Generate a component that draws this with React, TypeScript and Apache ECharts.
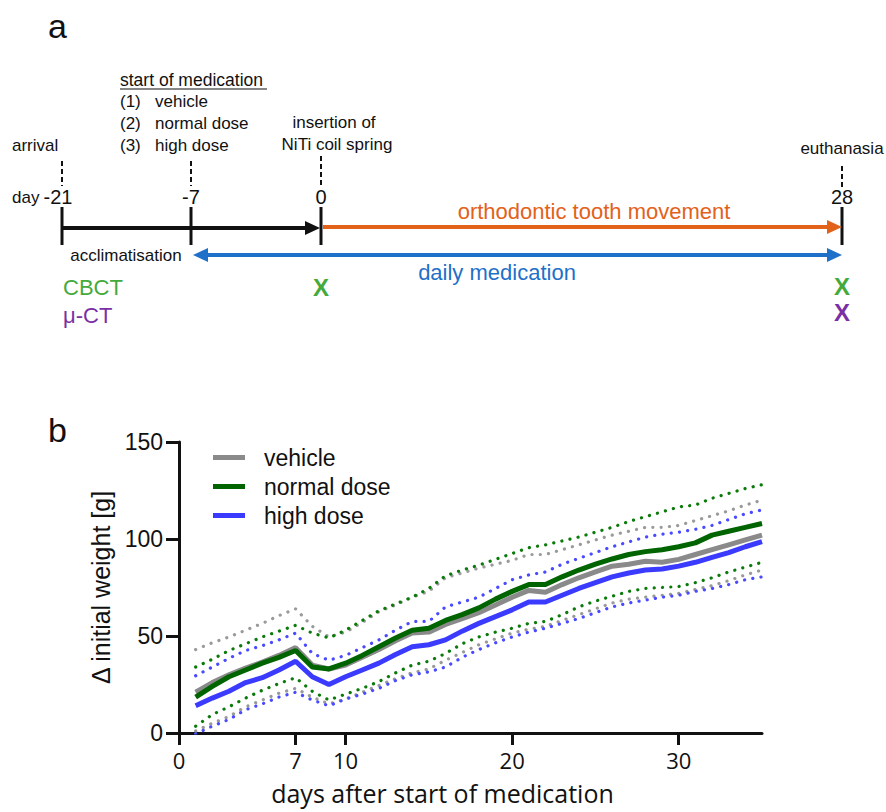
import React, { useEffect, useRef } from "react";
import * as echarts from "echarts";

// ---------- Panel b data ----------
const days = [1, 2, 3, 4, 5, 6, 7, 8, 9, 10, 11, 12, 13, 14, 15, 16, 17, 18, 19, 20, 21, 22, 23, 24, 25, 26, 27, 28, 29, 30, 31, 32, 33, 34, 35];
const xTicks = [0, 7, 10, 20, 30];
const groupNames = ["vehicle", "normal dose", "high dose"];

const vehicleMean = [21, 26, 30, 33.5, 36.5, 40, 44, 35, 33, 35, 39, 43, 47.5, 51.5, 52, 56, 59, 62, 66, 70, 73.5, 72.5, 76.5, 80, 83, 86, 87, 88.5, 88, 89.5, 92, 94.5, 97, 99.5, 102];
const vehicleUpper = [43, 46.5, 49.5, 53, 56.5, 60.5, 64, 55, 49.5, 52, 57, 62.5, 66, 70, 73, 80, 82.5, 85, 87, 89, 92, 92, 94.5, 97, 99.5, 102, 104, 106, 106, 107, 109.5, 112, 114.5, 117.5, 120];
const vehicleLower = [1, 5, 8.5, 13.5, 17, 20.5, 23, 18.5, 15, 17.5, 21, 24.5, 28, 31, 33, 37.5, 41.5, 45.5, 48.5, 51.5, 53.5, 55, 58, 61, 64, 67, 69, 70, 71, 72, 74, 76, 78.5, 81.5, 84];

const normalMean = [18.5, 24, 29, 32.5, 36, 39, 42.5, 34, 33, 36, 40, 44.5, 49, 53, 54, 58, 61, 64.5, 69, 73, 76.5, 76.5, 80.5, 84, 87, 89.7, 92, 93.5, 94.5, 96, 98, 102, 104, 106, 108];
const normalUpper = [34, 38, 42.5, 46, 49.5, 52.5, 55.5, 51.5, 49, 53, 58, 63, 66.5, 70, 74.5, 81, 84, 86.5, 89.5, 92.5, 95.5, 97, 99, 101, 103.5, 106, 109, 111.5, 114, 116.5, 117.5, 121, 123.5, 126, 128];
const normalLower = [3.5, 9.5, 13.5, 18, 22, 25.5, 28.5, 21.5, 17, 20, 23, 26.5, 31, 35, 37, 41, 46, 49.5, 52, 54, 56.5, 57.5, 61, 65, 68, 70.5, 73, 74.5, 75, 75.5, 77.5, 80, 83, 85.5, 88];

const highMean = [14, 18, 21.5, 26, 28.5, 32.5, 37, 29, 25, 29, 32.5, 36, 40.5, 44.5, 45.5, 48, 52.5, 56.5, 60, 63.5, 67.5, 67.5, 71, 74.5, 77.5, 80.5, 82.5, 84, 84.5, 86, 88, 90.5, 93, 96, 98.6];
const highUpper = [29.5, 34, 38.5, 42.5, 45, 48, 51.5, 41, 37.5, 40, 44, 48, 53, 57.5, 57.5, 65, 67.5, 70, 74.5, 79, 81.5, 83, 87, 90, 93, 96, 98.5, 101, 102.5, 103.5, 105, 107, 110, 113, 115];
const highLower = [-0.5, 3.5, 7, 12, 15, 18.5, 21, 17, 14, 17.5, 20, 23, 27, 30, 31.5, 34, 39, 43, 46.5, 49.5, 52, 54, 56.5, 59, 62, 65, 67, 68.5, 70, 71, 73, 74.5, 76.5, 79, 80.5];

// ---------- Panel a labels ----------
const timelineDays = ["-21", "-7", "0", "28"];
const medicationGroups = ["(1)", "(2)", "(3)"];
const medicationNames = ["vehicle", "normal dose", "high dose"];

const SANS = "Liberation Sans, Arial, sans-serif";

function pairs(ys: number[]) {
  return days.map((d, i) => [d, ys[i]]);
}

export default function App() {
  const ref = useRef<HTMLDivElement>(null);

  useEffect(() => {
    if (!ref.current) return;
    const chart = echarts.init(ref.current, null, { renderer: "svg" });

    const meanColors = ["#8a8a8a", "#006400", "#3b3bff"];
    const dotColors = ["#9a9a9a", "#0a7a0a", "#4a4aff"];
    const means = [vehicleMean, normalMean, highMean];
    const uppers = [vehicleUpper, normalUpper, highUpper];
    const lowers = [vehicleLower, normalLower, highLower];

    const series: any[] = [];
    for (let g = 0; g < 3; g++) {
      [uppers[g], lowers[g]].forEach((arr, k) => {
        series.push({
          type: "line",
          name: groupNames[g] + (k === 0 ? " +SD" : " -SD"),
          data: pairs(arr),
          symbol: "none",
          z: 2,
          lineStyle: { color: dotColors[g], width: 3.2, type: [0.1, 8.2], cap: "round" },
          itemStyle: { color: dotColors[g] },
        });
      });
    }
    for (let g = 0; g < 3; g++) {
      series.push({
        type: "line",
        name: groupNames[g],
        data: pairs(means[g]),
        symbol: "none",
        z: 3 + g,
        lineStyle: { color: meanColors[g], width: 5 },
        itemStyle: { color: meanColors[g] },
      });
    }

    const txt = (text: string, x: number, y: number, size: number, color = "#111", align = "left", extra: any = {}) => ({
      type: "text",
      x,
      y,
      style: { text, fontSize: size, fontFamily: SANS, fill: color, align, verticalAlign: "middle", ...extra },
    });
    const ln = (x1: number, y1: number, x2: number, y2: number, color: string, w: number, dash?: number[]) => ({
      type: "line",
      shape: { x1, y1, x2, y2 },
      style: { stroke: color, lineWidth: w, lineDash: dash },
    });
    const head = (tipX: number, y: number, dir: number, color: string) => ({
      type: "polygon",
      shape: { points: [[tipX, y], [tipX - dir * 15, y - 7], [tipX - dir * 15, y + 7]] },
      style: { fill: color },
    });

    const tx = [62, 191, 321, 842];
    const black = "#111";
    const orange = "#e2621a";
    const blue = "#1f70c8";
    const green = "#44aa3c";
    const purple = "#7a30a4";

    const graphics: any[] = [
      txt("a", 48, 26, 34),
      txt("b", 48, 430, 34),
      txt("start of medication", 120, 80, 17.5),
      ln(120, 89, 267, 89, "#111", 1.2),
      ...medicationGroups.map((m, i) => txt(m, 120, 101 + i * 22, 17)),
      ...medicationNames.map((m, i) => txt(m, 155, 101 + i * 22, 17)),
      txt("insertion of", 334, 122, 17, "#111", "center"),
      txt("NiTi coil spring", 337, 144, 17, "#111", "center"),
      txt("arrival", 12, 145, 17),
      txt("euthanasia", 842, 148, 17, "#111", "center"),
      ln(tx[0], 161, tx[0], 186, black, 2, [5, 3]),
      ln(tx[1], 161, tx[1], 186, black, 2, [5, 3]),
      ln(tx[2], 156, tx[2], 186, black, 2, [5, 3]),
      ln(tx[3], 166, tx[3], 188, black, 2, [5, 3]),
      txt("day", 12, 197, 17),
      txt(timelineDays[0], 58, 197, 20, "#111", "center"),
      txt(timelineDays[1], 191, 197, 20, "#111", "center"),
      txt(timelineDays[2], 321, 197, 20, "#111", "center"),
      txt(timelineDays[3], 842, 197, 20, "#111", "center"),
      ...tx.map((x) => ln(x, 207, x, 245, black, 3)),
      ln(62, 228, 308, 228, black, 4),
      head(320, 228, 1, black),
      ln(323, 227, 830, 227, orange, 4),
      head(842, 227, 1, orange),
      ln(205, 255, 830, 255, blue, 4),
      head(193, 255, -1, blue),
      head(842, 255, 1, blue),
      txt("orthodontic tooth movement", 594, 211, 22, orange, "center"),
      txt("acclimatisation", 126, 255, 17, "#111", "center"),
      txt("daily medication", 497, 272, 22, blue, "center"),
      txt("CBCT", 63, 287, 22, green),
      txt("μ-CT", 63, 315, 22, purple),
      txt("X", 321, 287, 24, green, "center", { fontWeight: "bold" }),
      txt("X", 842, 286, 24, green, "center", { fontWeight: "bold" }),
      txt("X", 842, 312, 24, purple, "center", { fontWeight: "bold" }),
    ];

    chart.setOption({
      animation: false,
      backgroundColor: "#fff",
      grid: { left: 179, top: 442, width: 583, height: 291 },
      legend: {
        data: groupNames,
        orient: "vertical",
        left: 208,
        top: 441,
        icon: "rect",
        itemWidth: 32,
        itemHeight: 5,
        itemGap: 6,
        selectedMode: false,
        textStyle: { fontSize: 23, fontFamily: SANS, color: "#111", padding: [0, 0, 0, 14] },
      },
      xAxis: {
        type: "value",
        min: 0,
        max: 35,
        name: "days after start of medication",
        nameLocation: "middle",
        nameGap: 47,
        nameTextStyle: { fontSize: 25, lineHeight: 25, fontFamily: "Open Sans, sans-serif", color: "#111", padding: [0, 56, 0, 0] },
        axisLine: { lineStyle: { color: "#111", width: 3 } },
        axisTick: { customValues: xTicks, length: 12, lineStyle: { color: "#111", width: 3 } },
        axisLabel: { customValues: xTicks, fontSize: 22, lineHeight: 22, fontFamily: "Open Sans, sans-serif", color: "#111", margin: 16 },
        splitLine: { show: false },
      },
      yAxis: {
        type: "value",
        min: 0,
        max: 150,
        interval: 50,
        name: "Δ initial weight [g]",
        nameLocation: "middle",
        nameGap: 66,
        nameTextStyle: { fontSize: 25, fontFamily: SANS, color: "#111" },
        axisLine: { show: true, lineStyle: { color: "#111", width: 3 } },
        axisTick: { show: true, length: 13, lineStyle: { color: "#111", width: 3 } },
        axisLabel: { fontSize: 23, fontFamily: SANS, color: "#111", margin: 16 },
        splitLine: { show: false },
      },
      series,
      graphic: graphics,
    });

    return () => chart.dispose();
  }, []);

  return <div ref={ref} style={{ position: "fixed", left: 0, top: 0, width: 886, height: 812 }} />;
}
